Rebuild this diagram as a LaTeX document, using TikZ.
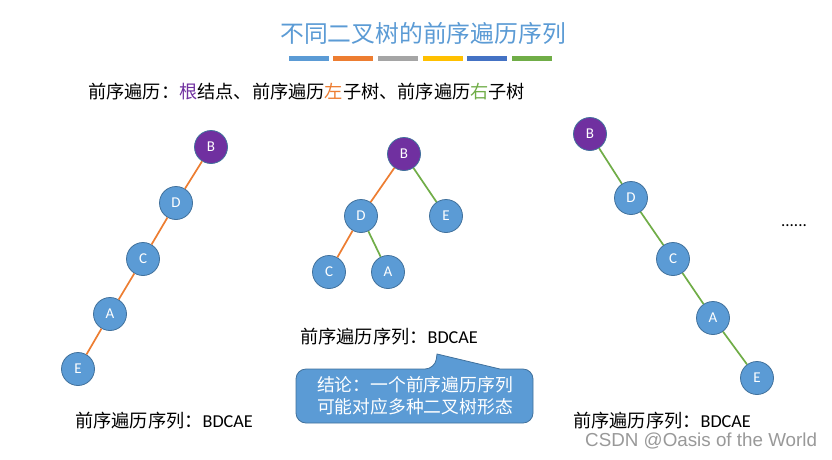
\documentclass[tikz,border=0pt]{standalone}
\usepackage{fontspec}
\setmainfont{Carlito}
\newfontfamily\cjk{Noto Sans CJK SC}
\newfontfamily\wmfont{Liberation Sans}
\definecolor{tblue}{HTML}{5B9BD5}
\definecolor{tborder}{HTML}{41719C}
\definecolor{torange}{HTML}{ED7D31}
\definecolor{tgray}{HTML}{A5A5A5}
\definecolor{tgold}{HTML}{FFC000}
\definecolor{tdblue}{HTML}{4472C4}
\definecolor{tgreen}{HTML}{70AD47}
\definecolor{tpurple}{HTML}{7030A0}
\tikzset{
  tnode/.style={circle, draw=tborder, line width=0.8pt, fill=tblue, minimum size=33pt, inner sep=0pt, text=white, font=\fontsize{15}{15}\selectfont},
  rootnode/.style={tnode, fill=tpurple},
  ledge/.style={draw=torange, line width=1.7pt},
  redge/.style={draw=tgreen, line width=1.7pt},
  bar/.style={line width=4.5pt},
  lbl/.style={anchor=west, inner sep=0pt, font=\fontsize{18.2}{20}\selectfont},
}
\begin{document}
\begin{tikzpicture}[x=1pt,y=-1pt]
\useasboundingbox[fill=white] (0,0) rectangle (832,459);
% title
\node[inner sep=0pt, text=tblue, font=\cjk\fontsize{23.8}{26}\selectfont] (title) at (423,33) {不同二叉树的前序遍历序列};
\draw[bar, tblue] (289,58.5) -- (329,58.5);
\draw[bar, torange] (333,58.5) -- (373,58.5);
\draw[bar, tgray] (378,58.5) -- (418,58.5);
\draw[bar, tgold] (423,58.5) -- (463,58.5);
\draw[bar, tdblue] (467,58.5) -- (507,58.5);
\draw[bar, tgreen] (512,58.5) -- (552,58.5);
% rule line
\node[lbl, font=\cjk\fontsize{18.2}{20}\selectfont] (rule) at (88,92) {前序遍历：\textcolor{tpurple}{根}结点、前序遍历\textcolor{torange}{左}子树、前序遍历\textcolor{tgreen}{右}子树};
% tree 1
\node[rootnode] (b1) at (211,147) {B};
\node[tnode] (d1) at (176,203) {D};
\node[tnode] (c1) at (143,259) {C};
\node[tnode] (a1) at (110,314) {A};
\node[tnode] (e1) at (78,369) {E};
\draw[ledge] (b1) -- (d1);
\draw[ledge] (d1) -- (c1);
\draw[ledge] (c1) -- (a1);
\draw[ledge] (a1) -- (e1);
% tree 2
\node[rootnode] (b2) at (404,154) {B};
\node[tnode] (d2) at (361,216) {D};
\node[tnode] (e2) at (446,216) {E};
\node[tnode] (c2) at (329,272) {C};
\node[tnode] (a2) at (388,272) {A};
\draw[ledge] (b2) -- (d2);
\draw[redge] (b2) -- (e2);
\draw[ledge] (d2) -- (c2);
\draw[redge] (d2) -- (a2);
% tree 3
\node[rootnode] (b3) at (590,134) {B};
\node[tnode] (d3) at (631,198) {D};
\node[tnode] (c3) at (673,259) {C};
\node[tnode] (a3) at (713,318) {A};
\node[tnode] (e3) at (757,378) {E};
\draw[redge] (b3) -- (d3);
\draw[redge] (d3) -- (c3);
\draw[redge] (c3) -- (a3);
\draw[redge] (a3) -- (e3);
\node[inner sep=0pt, font=\fontsize{17}{17}\selectfont] (dots) at (794,226) {......};
% labels
\node[lbl] (l1) at (75,421) {{\cjk 前序遍历序列：}BDCAE};
\node[lbl] (l2) at (300,337) {{\cjk 前序遍历序列：}BDCAE};
\node[lbl] (l3) at (573,421) {{\cjk 前序遍历序列：}BDCAE};
% callout
\draw[fill=tblue, draw=tborder, line width=0.8pt, rounded corners=10pt]
  (296,369) -- (435,369) [sharp corners] -- (437,354) -- (500,369) [rounded corners=10pt] -- (533,369) -- (533,423) -- (296,423) -- cycle;
\node[inner sep=0pt, text=white, align=center, font=\cjk\fontsize{17.8}{22}\selectfont] (concl) at (415,396) {结论：一个前序遍历序列\\可能对应多种二叉树形态};
% watermark
\node[anchor=west, inner sep=0pt, text=black!40, font=\wmfont\fontsize{18.8}{20}\selectfont] (wm) at (585,441) {CSDN @Oasis of the World};
\end{tikzpicture}
\end{document}
